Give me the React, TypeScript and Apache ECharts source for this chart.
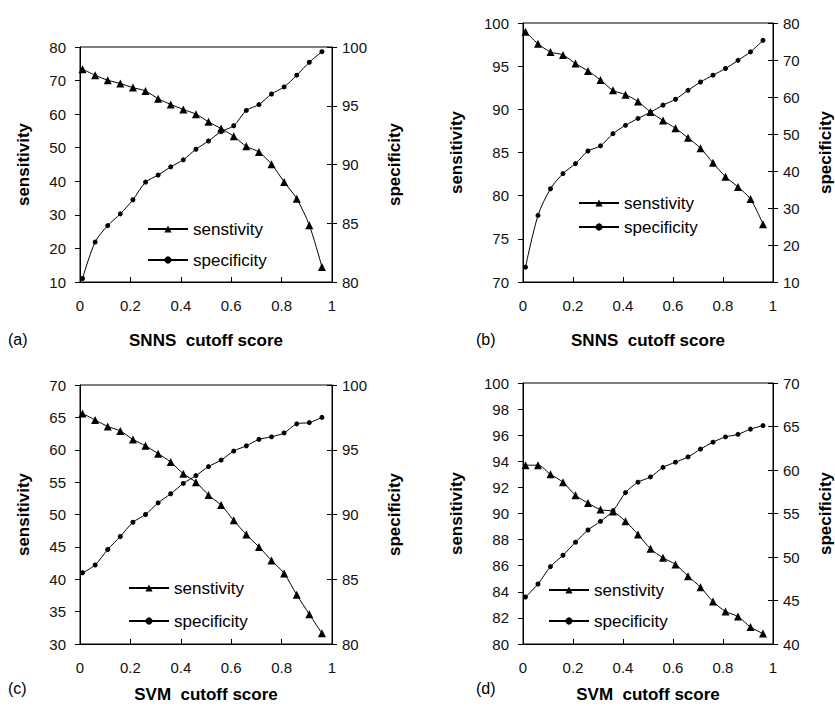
import React, { useEffect, useRef } from "react";
import * as echarts from "echarts";

const cutoff = [0.01, 0.06, 0.11, 0.16, 0.21, 0.26, 0.31, 0.36, 0.41, 0.46, 0.51, 0.56, 0.61, 0.66, 0.71, 0.76, 0.81, 0.86, 0.91, 0.96];
const xTicks = ["0", "0.2", "0.4", "0.6", "0.8", "1"];

const aSens = [73.4, 71.6, 70.1, 69.1, 67.9, 66.9, 64.6, 62.9, 61.4, 60.0, 57.7, 55.7, 53.4, 50.4, 48.7, 45.1, 39.8, 34.8, 26.9, 14.5];
const aSpec = [80.3, 83.4, 84.8, 85.8, 87.0, 88.5, 89.1, 89.8, 90.4, 91.3, 92.0, 92.8, 93.3, 94.6, 95.1, 96.0, 96.6, 97.6, 98.7, 99.6];
const bSens = [99.0, 97.6, 96.65, 96.3, 95.3, 94.45, 93.4, 92.2, 91.7, 90.9, 89.7, 88.7, 87.8, 86.7, 85.5, 83.8, 82.2, 81.0, 79.6, 76.7];
const bSpec = [14.0, 28.0, 35.2, 39.3, 42.0, 45.4, 46.8, 50.1, 52.35, 54.2, 55.9, 57.8, 59.4, 61.8, 64.05, 65.9, 67.7, 69.9, 72.2, 75.3];
const cSens = [65.6, 64.6, 63.6, 62.9, 61.6, 60.6, 59.4, 58.1, 56.3, 55.0, 53.0, 51.45, 49.1, 46.9, 45.0, 42.9, 40.9, 37.6, 34.6, 31.65];
const cSpec = [85.5, 86.1, 87.3, 88.3, 89.4, 90.0, 90.9, 91.6, 92.4, 93.0, 93.7, 94.2, 94.9, 95.3, 95.8, 96.0, 96.3, 97.0, 97.1, 97.5];
const dSens = [93.7, 93.7, 93.0, 92.4, 91.4, 90.8, 90.3, 90.15, 89.4, 88.4, 87.3, 86.6, 86.1, 85.2, 84.35, 83.25, 82.5, 82.1, 81.3, 80.8];
const dSpec = [45.4, 46.9, 48.9, 50.2, 51.7, 53.1, 54.1, 55.3, 57.4, 58.6, 59.2, 60.3, 60.9, 61.5, 62.4, 63.2, 63.8, 64.1, 64.7, 65.1];

const panelLabels = ["(a)", "(b)", "(c)", "(d)"];
const xNames = ["SNNS  cutoff score", "SNNS  cutoff score", "SVM  cutoff score", "SVM  cutoff score"];
const leftName = "sensitivity";
const rightName = "specificity";
const sensName = "senstivity";
const specName = "specificity";

const leftRanges = [[10, 80, 10], [70, 100, 5], [30, 70, 5], [80, 100, 2]];
const rightRanges = [[80, 100, 5], [10, 80, 10], [80, 100, 5], [40, 70, 5]];
const sensData = [aSens, bSens, cSens, dSens];
const specData = [aSpec, bSpec, cSpec, dSpec];

const FONT = "Liberation Sans, Arial, sans-serif";

export default function App() {
  const ref = useRef<HTMLDivElement>(null);
  useEffect(() => {
    if (!ref.current) return;
    const chart = echarts.init(ref.current, null, { renderer: "svg" });

    const grids = [
      { left: 80, top: 47, width: 252, height: 235 },
      { left: 523, top: 23, width: 251, height: 259 },
      { left: 80, top: 385, width: 252, height: 259 },
      { left: 523, top: 383, width: 251, height: 261 },
    ];
    const leftGaps = [48, 58, 48, 58];
    const rightGaps = [54, 44, 54, 44];
    const xNameGaps = [50, 50, 42, 42];
    const legendPos = [
      { left: 147, top: 219, gap: 11 },
      { left: 578, top: 193, gap: 4 },
      { left: 128, top: 578, gap: 13 },
      { left: 548, top: 580, gap: 11 },
    ];
    const labelPos = [
      { x: 8, y: 341 },
      { x: 476, y: 341 },
      { x: 8, y: 690 },
      { x: 476, y: 690 },
    ];

    const xAxis: any[] = [];
    const yAxis: any[] = [];
    const series: any[] = [];
    const legend: any[] = [];
    const graphic: any[] = [];

    for (let i = 0; i < 4; i++) {
      xAxis.push({
        type: "value",
        gridIndex: i,
        min: 0,
        max: 1,
        interval: 0.2,
        name: xNames[i],
        nameLocation: "middle",
        nameGap: xNameGaps[i],
        nameTextStyle: { fontFamily: FONT, fontSize: 17, fontWeight: "bold", color: "#000" },
        axisLine: { lineStyle: { color: "#000", width: 1 } },
        axisTick: { inside: true, length: 5, lineStyle: { color: "#000" } },
        axisLabel: {
          margin: 16,
          fontFamily: FONT,
          fontSize: 15,
          color: "#111",
          formatter: (v: number) => xTicks[Math.round(v * 5)],
        },
        splitLine: { show: false },
      });
      const [lmin, lmax, lint] = leftRanges[i];
      const [rmin, rmax, rint] = rightRanges[i];
      yAxis.push({
        type: "value",
        gridIndex: i,
        position: "left",
        min: lmin,
        max: lmax,
        interval: lint,
        name: leftName,
        nameLocation: "middle",
        nameRotate: 90,
        nameGap: leftGaps[i],
        nameTextStyle: { fontFamily: FONT, fontSize: 17, fontWeight: "bold", color: "#000" },
        axisLine: { show: true, lineStyle: { color: "#000", width: 1 } },
        axisTick: { show: true, length: 5, lineStyle: { color: "#000" } },
        axisLabel: { margin: 14, fontFamily: FONT, fontSize: 15, color: "#111" },
        splitLine: { show: false },
      });
      yAxis.push({
        type: "value",
        gridIndex: i,
        position: "right",
        min: rmin,
        max: rmax,
        interval: rint,
        name: rightName,
        nameLocation: "middle",
        nameRotate: 90,
        nameGap: rightGaps[i],
        nameTextStyle: { fontFamily: FONT, fontSize: 17, fontWeight: "bold", color: "#000" },
        axisLine: { show: true, lineStyle: { color: "#000", width: 1 } },
        axisTick: { show: true, length: 5, lineStyle: { color: "#000" } },
        axisLabel: { margin: 10, fontFamily: FONT, fontSize: 15, color: "#111" },
        splitLine: { show: false },
      });
      // inner half of the crossing ticks on the right axis
      yAxis.push({
        type: "value",
        gridIndex: i,
        position: "right",
        min: rmin,
        max: rmax,
        interval: rint,
        axisLine: { show: false },
        axisTick: { show: true, inside: true, length: 5, lineStyle: { color: "#000" } },
        axisLabel: { show: false },
        splitLine: { show: false },
      });

      series.push({
        name: sensName,
        type: "line",
        xAxisIndex: i,
        yAxisIndex: i * 3,
        smooth: 0.3,
        symbol: "triangle",
        symbolSize: 8,
        lineStyle: { color: "#000", width: 1 },
        itemStyle: { color: "#000" },
        data: cutoff.map((x, k) => [x, sensData[i][k]]),
      });
      series.push({
        name: specName,
        type: "line",
        xAxisIndex: i,
        yAxisIndex: i * 3 + 1,
        smooth: 0.3,
        symbol: "circle",
        symbolSize: 5,
        lineStyle: { color: "#000", width: 1 },
        itemStyle: { color: "#000" },
        data: cutoff.map((x, k) => [x, specData[i][k]]),
      });

      legend.push({
        orient: "vertical",
        left: legendPos[i].left,
        top: legendPos[i].top,
        itemWidth: 40,
        itemHeight: 9,
        itemGap: legendPos[i].gap,
        padding: 0,
        selectedMode: false,
        data: [sensName, specName],
        textStyle: { fontFamily: FONT, fontSize: 17, color: "#000", lineHeight: 20 },
      });

      graphic.push({
        type: "text",
        left: labelPos[i].x,
        top: labelPos[i].y - 10,
        style: { text: panelLabels[i], font: `16px ${FONT}`, fill: "#000" },
      });
    }

    chart.setOption({
      animation: false,
      backgroundColor: "#fff",
      grid: grids.map((g) => ({ ...g, show: true, borderColor: "#000", borderWidth: 1, backgroundColor: "transparent" })),
      xAxis,
      yAxis,
      series,
      legend,
      graphic,
    });
    return () => chart.dispose();
  }, []);
  return (
    <div
      ref={ref}
      style={{ position: "fixed", left: 0, top: 0, width: 835, height: 706, background: "#fff" }}
    />
  );
}
